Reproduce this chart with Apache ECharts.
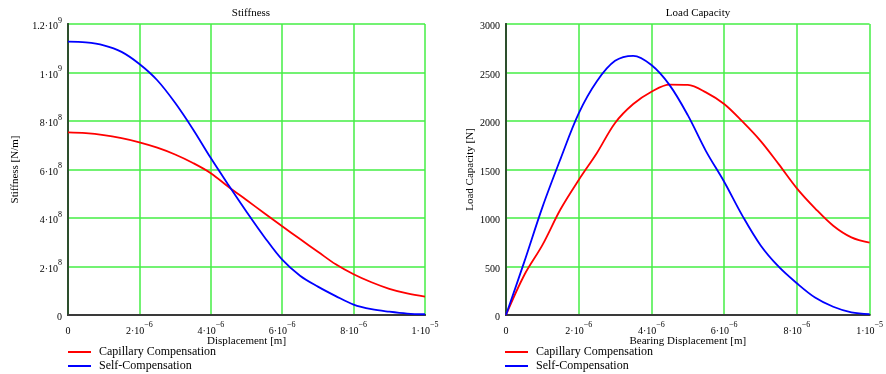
<!DOCTYPE html>
<html>
<head>
<meta charset="utf-8">
<script src="https://cdn.jsdelivr.net/npm/echarts@6/dist/echarts.min.js"></script>
<style>
html,body{margin:0;padding:0;background:#fff;}
#chart{width:886px;height:374px;}
</style>
</head>
<body>
<div id="chart"></div>
<script>
// Displacement values [m]
var displacement = [0, 0.5e-6, 1.0e-6, 1.5e-6, 2.0e-6, 2.5e-6, 3.0e-6, 3.5e-6, 4.0e-6, 4.5e-6, 5.0e-6,
  5.5e-6, 6.0e-6, 6.5e-6, 7.0e-6, 7.5e-6, 8.0e-6, 8.5e-6, 9.0e-6, 9.5e-6, 10.0e-6];

// Stiffness [N/m]
var stiffnessCapillary = [7.53e8, 7.50e8, 7.42e8, 7.29e8, 7.12e8, 6.90e8, 6.62e8, 6.27e8, 5.85e8, 5.28e8, 4.74e8,
  4.20e8, 3.66e8, 3.13e8, 2.61e8, 2.09e8, 1.68e8, 1.35e8, 1.08e8, 0.89e8, 0.76e8];
var stiffnessSelf = [11.27e8, 11.24e8, 11.12e8, 10.85e8, 10.35e8, 9.68e8, 8.75e8, 7.66e8, 6.47e8, 5.35e8, 4.26e8,
  3.22e8, 2.28e8, 1.62e8, 1.17e8, 0.78e8, 0.43e8, 0.24e8, 0.136e8, 0.06e8, 0.03e8];

// Load capacity [N]
var loadCapillary = [0, 410, 720, 1090, 1392, 1670, 1980, 2175, 2302, 2376, 2372,
  2295, 2175, 1995, 1795, 1555, 1306, 1100, 920, 800, 745];
var loadSelf = [0, 545, 1110, 1610, 2079, 2410, 2620, 2672, 2577, 2370, 2060,
  1690, 1374, 1025, 720, 498, 327, 180, 85, 27, 8];

var seriesNames = ['Capillary Compensation', 'Self-Compensation'];
var chartTitles = ['Stiffness', 'Load Capacity'];
var xAxisNames = ['Displacement [m]', 'Bearing Displacement [m]'];
var yAxisNames = ['Stiffness [N/m]', 'Load Capacity [N]'];
var stiffnessTickLabels = {0: '0', 2: '2·10|8', 4: '4·10|8', 6: '6·10|8', 8: '8·10|8', 10: '1·10|9', 12: '1.2·10|9'};

var FONT = 'Liberation Serif';
var RED = '#ff0000', BLUE = '#0000ff';
var GRIDC = '#44ee44', FRAME = '#2d4f2d';

function pairs(xs, ys) { return xs.map(function (x, i) { return [x, ys[i]]; }); }

function xLabel(v) {
  var n = Math.round(v / 1e-6);
  if (n === 0) return '{b|0}';
  if (n === 10) return '{b|1·10}{s|−5}';
  return '{b|' + n + '·10}{s|−6}';
}
function yStiffLabel(v) {
  var n = Math.round(v / 1e8);
  var t = stiffnessTickLabels[n];
  if (!t) return '';
  if (t === '0') return '{b|0}';
  var p = t.split('|');
  return '{b|' + p[0] + '}{s|' + p[1] + '}';
}
var rich = {
  b: {fontFamily: FONT, fontSize: 10, color: '#000', verticalAlign: 'bottom', lineHeight: 15},
  s: {fontFamily: FONT, fontSize: 8, color: '#000', verticalAlign: 'top', lineHeight: 9}
};

function mkX(gi, fmt) {
  return {
    type: 'value', gridIndex: gi, min: 0, max: 1e-5, interval: 2e-6,
    name: xAxisNames[gi], nameLocation: 'middle', nameGap: 21, nameMoveOverlap: false,
    nameTextStyle: {fontFamily: FONT, fontSize: 11, color: '#000'},
    axisLine: {show: true, lineStyle: {color: FRAME, width: 2}},
    axisTick: {show: false},
    axisLabel: {formatter: fmt, rich: rich, margin: 6, color: '#000'},
    splitLine: {show: true, lineStyle: {color: GRIDC, width: 1.5}}
  };
}
function mkY(gi, max, interval, fmt, gap) {
  return {
    type: 'value', gridIndex: gi, min: 0, max: max, interval: interval,
    name: yAxisNames[gi], nameLocation: 'middle', nameGap: gap, nameRotate: 90,
    nameTextStyle: {fontFamily: FONT, fontSize: 11, color: '#000'},
    axisLine: {show: true, onZero: false, lineStyle: {color: FRAME, width: 2}},
    axisTick: {show: false},
    axisLabel: {formatter: fmt, rich: rich, margin: 6, color: '#000', fontFamily: FONT, fontSize: 10},
    splitLine: {show: true, lineStyle: {color: GRIDC, width: 1.5}}
  };
}
function frameX(gi) {
  return {type: 'value', gridIndex: gi, position: 'top', min: 0, max: 1, axisLine: {show: true, lineStyle: {color: '#3a3a3a', width: 2}},
    axisTick: {show: false}, axisLabel: {show: false}, splitLine: {show: false}};
}
function frameY(gi) {
  return {type: 'value', gridIndex: gi, position: 'right', min: 0, max: 1, axisLine: {show: true, lineStyle: {color: FRAME, width: 2}},
    axisTick: {show: false}, axisLabel: {show: false}, splitLine: {show: false}};
}
function line(name, color, xi, yi, data) {
  return {type: 'line', name: name, xAxisIndex: xi, yAxisIndex: yi, data: data, showSymbol: false, symbol: 'none',
    smooth: 0.35, lineStyle: {color: color, width: 1.8}, itemStyle: {color: color}, z: 5, animation: false};
}
function legendItem(left, top, name) {
  return {left: left, top: top, orient: 'horizontal', itemWidth: 23, itemHeight: 2, icon: 'rect', padding: 0,
    data: [name], textStyle: {fontFamily: FONT, fontSize: 12, color: '#000', padding: [0, 0, 0, 3]}};
}

var chart = echarts.init(document.getElementById('chart'), null, {renderer: 'canvas'});
chart.setOption({
  animation: false,
  backgroundColor: '#ffffff',
  title: [
    {text: chartTitles[0], left: 246, top: 3, textAlign: 'center', textStyle: {fontFamily: FONT, fontSize: 11, fontWeight: 'normal', color: '#000'}},
    {text: chartTitles[1], left: 693, top: 3, textAlign: 'center', textStyle: {fontFamily: FONT, fontSize: 11, fontWeight: 'normal', color: '#000'}}
  ],
  grid: [
    {left: 68, top: 24, width: 357, height: 291},
    {left: 506, top: 24, width: 374, height: 291}
  ],
  legend: [
    legendItem(68, 346, seriesNames[0]),
    legendItem(68, 360, seriesNames[1]),
    legendItem(505, 346, seriesNames[0]),
    legendItem(505, 360, seriesNames[1])
  ],
  xAxis: [mkX(0, xLabel), mkX(1, xLabel), frameX(0), frameX(1)],
  yAxis: [
    mkY(0, 1.2e9, 2e8, yStiffLabel, 47),
    mkY(1, 3000, 500, function (v) { return '{b|' + v + '}'; }, 30),
    frameY(0), frameY(1)
  ],
  series: [
    line(seriesNames[0], RED, 0, 0, pairs(displacement, stiffnessCapillary)),
    line(seriesNames[1], BLUE, 0, 0, pairs(displacement, stiffnessSelf)),
    line(seriesNames[0], RED, 1, 1, pairs(displacement, loadCapillary)),
    line(seriesNames[1], BLUE, 1, 1, pairs(displacement, loadSelf))
  ]
});
</script>
</body>
</html>
